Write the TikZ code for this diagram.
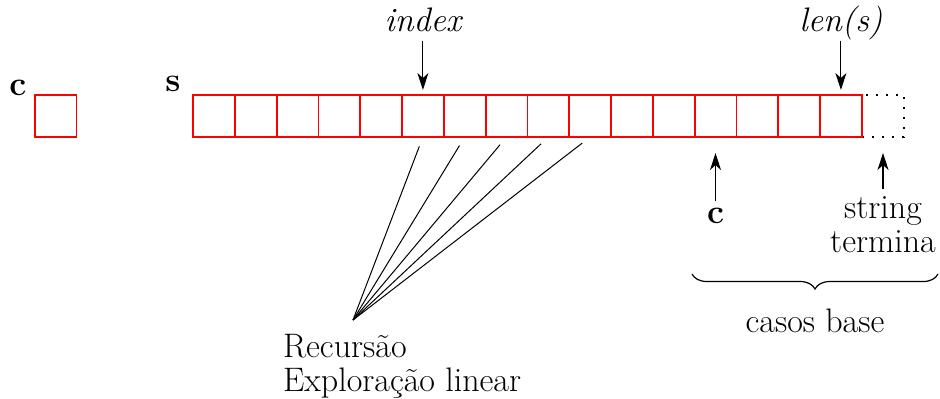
\documentclass[tikz,border=0pt]{standalone}
\usepackage{tikz}
\usetikzlibrary{arrows.meta,positioning,calc,decorations.pathreplacing}

\begin{document}
\begin{tikzpicture}[x=0.5pt,y=-0.5pt,
  font=\fontsize{17}{17}\selectfont,
  cell/.style={draw=red,line width=0.9pt,minimum width=20.9pt,minimum height=21pt,inner sep=0pt,outer sep=0pt},
  ghost/.style={draw,line width=0.9pt,dash pattern=on 1pt off 4pt,minimum width=20.9pt,minimum height=21pt,inner sep=0pt,outer sep=0pt},
  tag/.style={font=\fontsize{17}{17}\selectfont\itshape,text depth=0pt},
  arr/.style={-{Stealth[length=8.5pt,width=5.5pt,inset=2.5pt]},line width=0.55pt},
  brc/.style={decorate,decoration={brace,amplitude=7.5pt},line width=0.6pt}]
\useasboundingbox (0,0) rectangle (940,398);
% single char box
\node[cell] (cbox) at (55.5,116) {};
\node (clab) at (18,88) {\textbf{c}};
% the string s
\node[ghost] (s17) at (883,116) {};
\foreach \i in {1,...,16}
  \node[cell] (s\i) at ({193+41.8*(\i-0.5)},116) {};
\node (slab) at (173,84) {\textbf{s}};
% pointers from above
\node[tag,above=28pt of s6] (idx) {index};
\node[tag,above=28pt of s16] (len) {len(s)};
\draw[arr,shorten >=2.5pt,shorten <=1pt] (idx) -- (s6);
\draw[arr,shorten >=2.5pt,shorten <=1pt] (len) -- (s16);
% base cases
\node[below=32pt of s13] (cb) {\textbf{c}};
\node[below=26pt of s17,align=center] (end) {string\\termina};
\draw[arr,shorten >=8pt] (cb) -- (s13);
\draw[arr,shorten >=8pt] (end) -- (s17);
\draw[brc] (938,274) -- (692,274) coordinate[midway] (tip);
\node[below=14pt of tip] (casos) {casos base};
% recursion fan
\coordinate (fan) at (353,320);
\foreach \i in {6,...,10}
  \draw[line width=0.5pt,shorten <=5pt] (s\i.south) -- (fan);
\node[anchor=north west,align=left] (rec) at (276,327) {Recursão\\Exploração linear};
\end{tikzpicture}
\end{document}
